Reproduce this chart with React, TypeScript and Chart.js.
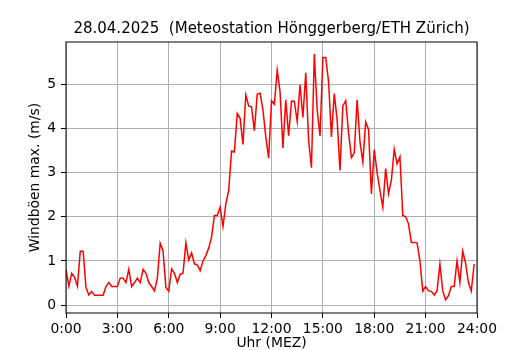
import React, { useEffect, useRef } from "react";
import { Chart, registerables } from "chart.js";

Chart.register(...registerables);

const TITLE = "28.04.2025  (Meteostation Hönggerberg/ETH Zürich)";
const X_LABEL = "Uhr (MEZ)";
const Y_LABEL = "Windböen max. (m/s)";
const STEP_MINUTES = 10;
const X_TICK_HOURS = [0, 3, 6, 9, 12, 15, 18, 21, 24];
const Y_TICKS = [0, 1, 2, 3, 4, 5];

// wind gust maximum per 10-minute interval, 0:00 .. 23:50
const windGust = [
  0.8, 0.43, 0.72, 0.63, 0.43, 1.22, 1.22, 0.4, 0.23, 0.31, 0.22, 0.22,
  0.22, 0.22, 0.42, 0.51, 0.42, 0.42, 0.42, 0.61, 0.61, 0.51, 0.81, 0.42,
  0.51, 0.61, 0.51, 0.81, 0.72, 0.51, 0.42, 0.32, 0.61, 1.4, 1.23, 0.4,
  0.31, 0.82, 0.72, 0.51, 0.7, 0.72, 1.41, 1.02, 1.18, 0.93, 0.91, 0.78,
  1.0, 1.12, 1.29, 1.54, 2.03, 2.03, 2.22, 1.78, 2.29, 2.6, 3.49, 3.47,
  4.34, 4.23, 3.64, 4.76, 4.51, 4.49, 3.95, 4.78, 4.8, 4.42, 3.81, 3.33,
  4.63, 4.55, 5.32, 4.83, 3.56, 4.65, 3.84, 4.62, 4.62, 4.16, 4.99, 4.25,
  5.26, 3.73, 3.11, 5.69, 4.42, 3.83, 5.61, 5.61, 5.06, 3.81, 4.79, 4.19,
  3.05, 4.51, 4.63, 3.9, 3.34, 3.45, 4.65, 3.7, 3.24, 4.15, 3.98, 2.52,
  3.52, 3.0, 2.6, 2.22, 3.09, 2.52, 2.83, 3.53, 3.2, 3.36, 2.03, 2.0,
  1.84, 1.42, 1.42, 1.41, 1.0, 0.32, 0.42, 0.32, 0.31, 0.23, 0.32, 0.93,
  0.32, 0.12, 0.21, 0.42, 0.42, 1.0, 0.51, 1.22, 0.95, 0.51, 0.32, 0.93,
];

const FONT = "'DejaVu Sans', sans-serif";

const framePlugin = {
  id: "frame",
  afterDatasetsDraw(chart: any) {
    const { ctx, chartArea } = chart;
    const { left, top, right, bottom } = chartArea;
    ctx.save();
    ctx.strokeStyle = "#000";
    ctx.lineWidth = 1;
    ctx.strokeRect(left, top, right - left, bottom - top);
    ctx.restore();
  },
};

export default function App() {
  const ref = useRef<HTMLCanvasElement | null>(null);

  useEffect(() => {
    if (!ref.current) return;
    Chart.defaults.color = "#000";
    Chart.defaults.font.family = FONT;
    const points = windGust.map((v, i) => ({ x: (i * STEP_MINUTES) / 60, y: v }));
    const chart = new Chart(ref.current, {
      type: "line",
      data: {
        datasets: [
          {
            data: points,
            borderColor: "#ff0000",
            borderWidth: 1.5,
            pointRadius: 0,
            tension: 0,
            fill: false,
          },
        ],
      },
      plugins: [framePlugin],
      options: {
        animation: false,
        responsive: false,
        devicePixelRatio: 1,
        layout: { padding: { left: 0, right: 53, top: 0, bottom: 0 } },
        plugins: {
          legend: { display: false },
          tooltip: { enabled: false },
          title: {
            display: true,
            fullSize: false,
            text: TITLE,
            color: "#000",
            font: { family: FONT, size: 15, weight: "normal", lineHeight: 1.2 },
            padding: { top: 20.5, bottom: 3.5 },
          },
        },
        scales: {
          x: {
            type: "linear",
            min: 0,
            max: 24,
            afterBuildTicks: (scale: any) => {
              scale.ticks = X_TICK_HOURS.map((h) => ({ value: h }));
            },
            afterFit: (scale: any) => {
              scale.height = 37;
            },
            ticks: {
              autoSkip: false,
              maxRotation: 0,
              padding: 3,
              color: "#000",
              font: { family: FONT, size: 13.9 },
              callback: (v: any) => `${v}:00`,
            },
            grid: { color: "#b0b0b0", lineWidth: 1, tickColor: "#000", tickLength: 5 },
            border: { display: false },
            title: {
              display: true,
              text: X_LABEL,
              color: "#000",
              font: { family: FONT, size: 13.9, lineHeight: 1 },
              padding: { top: 0, bottom: 0 },
            },
          },
          y: {
            type: "linear",
            min: -0.18,
            max: 5.96,
            afterBuildTicks: (scale: any) => {
              scale.ticks = Y_TICKS.map((v) => ({ value: v }));
            },
            afterFit: (scale: any) => {
              scale.width = 66;
            },
            ticks: {
              padding: 5,
              color: "#000",
              font: { family: FONT, size: 13.9 },
            },
            grid: { color: "#b0b0b0", lineWidth: 1, tickColor: "#000", tickLength: 5 },
            border: { display: false },
            title: {
              display: true,
              text: Y_LABEL,
              color: "#000",
              font: { family: FONT, size: 13.9, lineHeight: 1.2 },
              padding: { top: 27, bottom: 0 },
            },
          },
        },
      },
    } as any);
    return () => chart.destroy();
  }, []);

  return (
    <div style={{ position: "fixed", left: 0, top: 0, width: 530, height: 350, background: "#fff" }}>
      <canvas ref={ref} width={530} height={350} style={{ width: 530, height: 350 }} />
    </div>
  );
}
